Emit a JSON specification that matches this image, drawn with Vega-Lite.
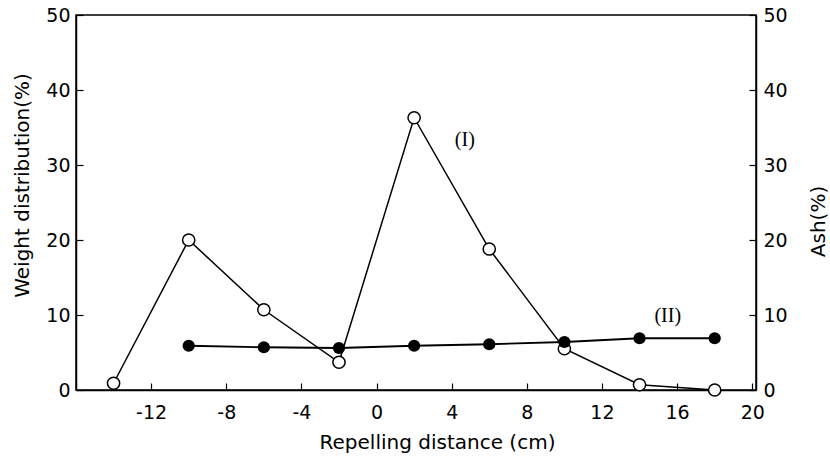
{
  "$schema": "https://vega.github.io/schema/vega-lite/v6.json",
  "width": 680,
  "height": 375,
  "autosize": "none",
  "padding": {"left": 76, "top": 15, "right": 74, "bottom": 70},
  "background": "white",
  "config": {
    "view": {"stroke": "black", "strokeWidth": 1.5},
    "axis": {
      "grid": false,
      "domainColor": "black",
      "domainWidth": 1.5,
      "tickColor": "black",
      "tickWidth": 1.2,
      "tickSize": -7,
      "labelFont": "DejaVu Sans",
      "labelFontSize": 19,
      "labelColor": "black",
      "labelExpr": "'' + datum.value",
      "titleFont": "DejaVu Sans",
      "titleFontSize": 20,
      "titleFontWeight": "normal",
      "titleColor": "black"
    }
  },
  "datasets": {
    "pts": [
      {"x": -14, "v": 0.9, "series": "I"},
      {"x": -10, "v": 20.0, "series": "I"},
      {"x": -6, "v": 10.7, "series": "I"},
      {"x": -2, "v": 3.7, "series": "I"},
      {"x": 2, "v": 36.3, "series": "I"},
      {"x": 6, "v": 18.8, "series": "I"},
      {"x": 10, "v": 5.5, "series": "I"},
      {"x": 14, "v": 0.7, "series": "I"},
      {"x": 18, "v": 0.0, "series": "I"},
      {"x": -10, "v": 5.9, "series": "II"},
      {"x": -6, "v": 5.7, "series": "II"},
      {"x": -2, "v": 5.6, "series": "II"},
      {"x": 2, "v": 5.9, "series": "II"},
      {"x": 6, "v": 6.1, "series": "II"},
      {"x": 10, "v": 6.4, "series": "II"},
      {"x": 14, "v": 6.9, "series": "II"},
      {"x": 18, "v": 6.9, "series": "II"}
    ],
    "labels": [
      {"x": 4.7, "v": 33.3, "label": "(I)"},
      {"x": 15.5, "v": 9.9, "label": "(II)"}
    ]
  },
  "encoding": {
    "x": {"field": "x", "type": "quantitative", "scale": {"domain": [-16, 20.2], "nice": false},
          "axis": {"values": [-12, -8, -4, 0, 4, 8, 12, 16, 20], "title": "Repelling  distance (cm)", "labelPadding": 20, "titleX": 361, "titlePadding": 10}}
  },
  "layer": [
    {
      "encoding": {
        "y": {"field": "v", "type": "quantitative", "scale": {"domain": [0, 50], "nice": false},
              "axis": {"values": [0, 10, 20, 30, 40, 50], "title": "Weight distribution(%)", "labelPadding": 13, "titleX": -54, "titleY": 170, "titleAngle": -90, "titleAlign": "center", "titleBaseline": "middle"}}
      },
      "layer": [
        {
          "data": {"name": "pts"},
          "transform": [{"filter": "datum.series === 'I'"}],
          "mark": {"type": "line", "color": "black", "strokeWidth": 1.5}
        },
        {
          "data": {"name": "pts"},
          "transform": [{"filter": "datum.series === 'I'"}],
          "mark": {"type": "point", "shape": "circle", "filled": true, "fill": "white", "stroke": "black", "strokeWidth": 1.5, "size": 150, "opacity": 1}
        },
        {
          "data": {"name": "labels"},
          "mark": {"type": "text", "font": "Liberation Serif", "fontSize": 20, "color": "black"},
          "encoding": {"text": {"field": "label"}}
        }
      ]
    },
    {
      "encoding": {
        "y": {"field": "v", "type": "quantitative", "scale": {"domain": [0, 50], "nice": false},
              "axis": {"orient": "right", "values": [0, 10, 20, 30, 40, 50], "title": "Ash(%)", "labelPadding": 14, "titleX": 62, "titleY": 206, "titleAngle": -90, "titleAlign": "center", "titleBaseline": "middle"}}
      },
      "layer": [
        {
          "data": {"name": "pts"},
          "transform": [{"filter": "datum.series === 'II'"}],
          "mark": {"type": "line", "color": "black", "strokeWidth": 1.8}
        },
        {
          "data": {"name": "pts"},
          "transform": [{"filter": "datum.series === 'II'"}],
          "mark": {"type": "point", "shape": "circle", "filled": true, "color": "black", "size": 150, "opacity": 1}
        }
      ]
    }
  ],
  "resolve": {"scale": {"y": "independent"}}
}
